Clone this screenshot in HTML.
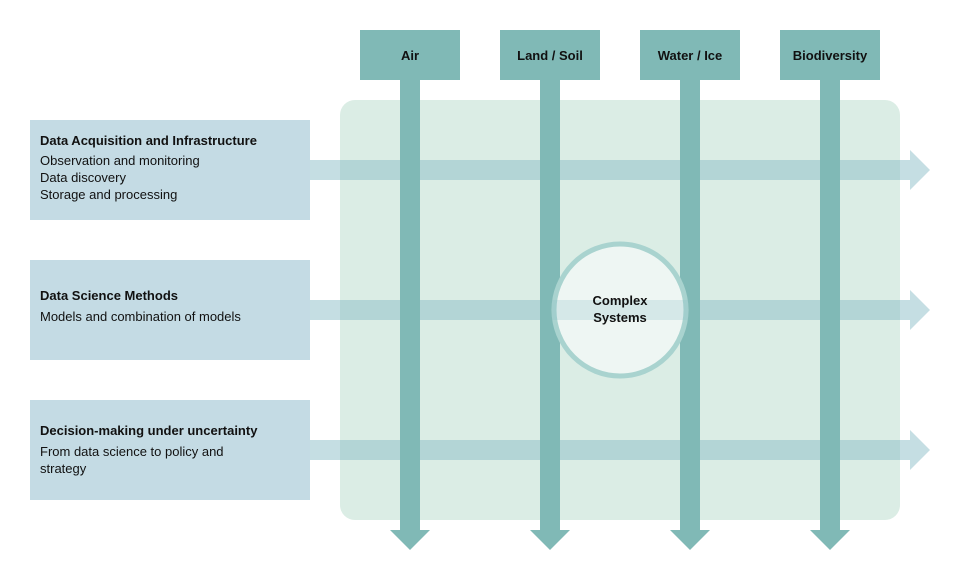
<!DOCTYPE html>
<html><head><style>
body{margin:0;background:#fff;width:960px;height:580px;overflow:hidden;font-family:"Liberation Sans",sans-serif;}
.t{font-family:"Liberation Sans",sans-serif;font-size:13px;fill:#111;}
.b{font-weight:bold;}
</style></head><body>
<svg width="960" height="580" viewBox="0 0 960 580" xmlns="http://www.w3.org/2000/svg">
<rect x="340" y="100" width="560" height="420" rx="15" fill="#dbede5"/>
<rect x="30" y="120" width="280" height="100" fill="#c4dbe4"/>
<rect x="30" y="260" width="280" height="100" fill="#c4dbe4"/>
<rect x="30" y="400" width="280" height="100" fill="#c4dbe4"/>
<g fill="rgba(140,190,200,0.5)">
<path d="M310 160h600v-10l20 20-20 20v-10h-600z"/>
<path d="M310 300h600v-10l20 20-20 20v-10h-600z"/>
<path d="M310 440h600v-10l20 20-20 20v-10h-600z"/>
</g>
<g fill="#80b9b6">
<rect x="360" y="30" width="100" height="50"/>
<rect x="500" y="30" width="100" height="50"/>
<rect x="640" y="30" width="100" height="50"/>
<rect x="780" y="30" width="100" height="50"/>
<path d="M400 80h20v450h10l-20 20-20-20h10z"/>
<path d="M540 80h20v450h10l-20 20-20-20h10z"/>
<path d="M680 80h20v450h10l-20 20-20-20h10z"/>
<path d="M820 80h20v450h10l-20 20-20-20h10z"/>
</g>
<circle cx="620" cy="310" r="66" fill="#eef6f3" stroke="#a9d3cf" stroke-width="5"/>
<rect x="552" y="300" width="136" height="20" fill="rgba(140,190,200,0.25)"/>
<text class="t b" x="410" y="60" text-anchor="middle">Air</text>
<text class="t b" x="550" y="60" text-anchor="middle">Land / Soil</text>
<text class="t b" x="690" y="60" text-anchor="middle">Water / Ice</text>
<text class="t b" x="830" y="60" text-anchor="middle">Biodiversity</text>
<text class="t b" x="620" y="305" text-anchor="middle">Complex</text>
<text class="t b" x="620" y="322" text-anchor="middle">Systems</text>
<text class="t b" x="40" y="145">Data Acquisition and Infrastructure</text>
<text class="t" x="40" y="165">Observation and monitoring</text>
<text class="t" x="40" y="182">Data discovery</text>
<text class="t" x="40" y="199">Storage and processing</text>
<text class="t b" x="40" y="300">Data Science Methods</text>
<text class="t" x="40" y="321">Models and combination of models</text>
<text class="t b" x="40" y="435">Decision-making under uncertainty</text>
<text class="t" x="40" y="456">From data science to policy and</text>
<text class="t" x="40" y="473">strategy</text>
</svg>
</body></html>
